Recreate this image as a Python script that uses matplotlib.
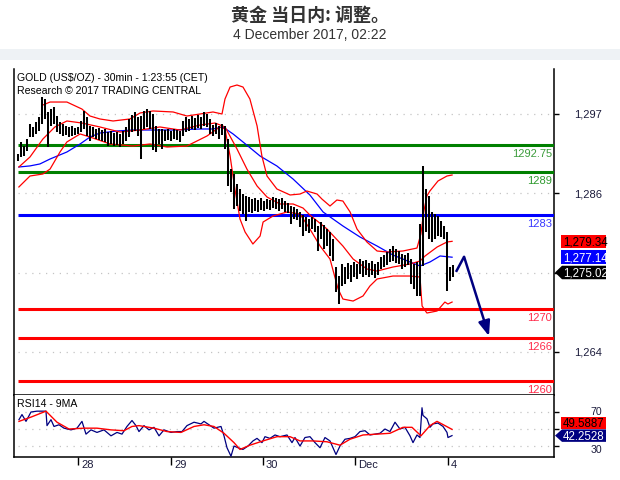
import numpy as np
import matplotlib
matplotlib.use("Agg")
import matplotlib.pyplot as plt
from matplotlib.patches import Polygon
from matplotlib.transforms import IdentityTransform, blended_transform_factory

plt.rcParams['font.family'] = ['Liberation Sans', 'DejaVu Sans']

# ---------------- data ----------------
title_text = "黄金 当日内: 调整。"
subtitle_text = "4 December 2017, 02:22"
header_lines = ["GOLD (US$/OZ) - 30min - 1:23:55 (CET)", "Research © 2017 TRADING CENTRAL"]
rsi_title = "RSI14 - 9MA"

bar_high = [1291.45, 1293.1, 1292.6, 1293.5, 1295.6, 1295.2, 1295.9, 1296.6, 1299.4, 1299.1,
            1297.3, 1297.7, 1298.0, 1296.7, 1295.9, 1295.6, 1295.3, 1295.2, 1295.3, 1295.1,
            1295.2, 1296.0, 1297.4, 1296.6, 1295.3, 1295.2, 1294.9, 1295.1, 1294.8, 1294.9,
            1294.5, 1294.6, 1294.4, 1294.5, 1294.2, 1294.6, 1295.2, 1296.3, 1296.9, 1297.3,
            1296.6, 1296.7, 1297.4, 1297.7, 1297.4, 1297.0, 1295.3, 1294.9, 1294.9, 1294.8,
            1294.9, 1294.6, 1294.9, 1294.8, 1294.6, 1296.0, 1296.6, 1296.3, 1296.7, 1296.4,
            1296.9, 1296.6, 1297.3, 1297.0, 1296.3, 1295.5, 1295.8, 1295.3, 1295.6, 1295.3,
            1293.5, 1289.4, 1288.7, 1287.3, 1286.6, 1285.9, 1285.6, 1285.5, 1285.2, 1285.3,
            1285.1, 1285.3, 1284.9, 1285.2, 1285.1, 1285.5, 1285.3, 1285.2, 1285.3, 1284.9,
            1284.7, 1284.2, 1284.1, 1283.8, 1283.4, 1283.0, 1282.7, 1282.4, 1282.7, 1282.4,
            1281.5, 1282.0, 1281.6, 1281.1, 1280.6, 1279.7, 1275.8, 1274.5, 1276.2, 1275.8,
            1276.3, 1276.1, 1276.5, 1276.2, 1276.9, 1276.6, 1276.8, 1276.3, 1276.6, 1276.2,
            1276.5, 1277.2, 1277.4, 1277.9, 1278.3, 1278.7, 1278.3, 1278.0, 1277.6, 1277.4,
            1277.7, 1276.9, 1276.2, 1276.5, 1281.7, 1289.8, 1286.6, 1285.6, 1283.4, 1283.1,
            1282.9, 1282.2, 1281.5, 1280.6, 1275.8, 1276.1]
bar_low = [1290.5, 1291.0, 1291.2, 1291.9, 1293.8, 1293.8, 1294.2, 1294.6, 1295.6, 1296.3,
           1292.4, 1295.3, 1295.6, 1294.5, 1294.2, 1293.9, 1294.1, 1293.8, 1293.9, 1294.1,
           1294.2, 1294.5, 1294.9, 1293.9, 1293.3, 1293.8, 1293.5, 1293.4, 1293.3, 1293.1,
           1292.6, 1292.8, 1292.6, 1292.7, 1292.4, 1292.8, 1293.3, 1293.8, 1294.5, 1294.6,
           1293.9, 1290.8, 1294.9, 1295.2, 1294.9, 1292.0, 1291.7, 1292.8, 1292.2, 1293.3,
           1293.4, 1293.3, 1293.5, 1293.4, 1293.1, 1293.9, 1294.5, 1294.6, 1294.9, 1294.8,
           1295.1, 1294.9, 1295.3, 1295.2, 1294.2, 1293.9, 1294.2, 1293.5, 1294.1, 1292.2,
           1287.0, 1286.2, 1283.8, 1284.2, 1283.5, 1283.1, 1282.2, 1283.4, 1283.3, 1283.5,
           1283.4, 1283.7, 1283.5, 1283.8, 1283.7, 1284.0, 1283.8, 1283.5, 1283.8, 1283.4,
           1283.3, 1281.7, 1282.4, 1282.3, 1281.3, 1280.1, 1280.8, 1280.5, 1281.1, 1280.6,
           1278.0, 1279.7, 1278.3, 1278.7, 1277.3, 1276.6, 1272.3, 1270.6, 1273.1, 1273.4,
           1274.1, 1273.7, 1274.4, 1274.1, 1274.8, 1274.4, 1274.7, 1274.4, 1274.7, 1274.3,
           1274.7, 1275.5, 1275.8, 1276.0, 1276.5, 1276.6, 1276.3, 1276.2, 1275.5, 1275.8,
           1276.1, 1273.4, 1272.7, 1271.8, 1271.8, 1275.9, 1280.6, 1279.7, 1279.2, 1279.7,
           1280.1, 1279.9, 1279.7, 1272.5, 1273.8, 1274.4]

# moving average (blue)
ma_t = [0.3, 4, 7.3, 10.7, 16.3, 20.7, 24, 27.3, 33, 38.3, 44, 51.7, 60.7, 65, 68.3, 71.7, 75,
        80.7, 86.3, 91.7, 97.3, 101.7, 108.3, 114, 119.7, 125, 130.7, 134, 137.3, 140.7, 144.7]
ma_v = [1289.65, 1289.8, 1290.07, 1290.76, 1291.73, 1292.84, 1293.81, 1294.36, 1294.64, 1294.78,
        1294.78, 1294.78, 1294.92, 1294.92, 1295.2, 1294.23, 1293.12, 1291.17, 1289.79, 1287.98,
        1285.77, 1283.41, 1281.47, 1279.94, 1278.69, 1277.44, 1276.47, 1275.92, 1276.47, 1277.31,
        1277.14]

# Bollinger bands (red)
up_t = [8.3, 10.7, 16.3, 21.3, 24, 27.3, 31.7, 37.3, 40.7, 45, 51.7, 56.3, 60.7, 65, 68, 69,
        70.7, 73, 75, 77.3, 79.7, 81.3, 83, 86.3, 90.7, 94, 96.3, 99.7, 101.3, 104, 106.3, 108.3,
        110.7, 113, 116.3, 119.7, 123, 128.3, 133, 134.3, 135.3, 136.3, 137.3, 140, 143, 144.7]
up_v = [1298.25, 1298.66, 1298.66, 1297.69, 1296.72, 1296.31, 1296.03, 1296.31, 1297.14, 1297.42,
        1297.28, 1296.72, 1297.0, 1297.28, 1297.0, 1299.08, 1300.74, 1301.02, 1300.74, 1299.08,
        1295.34, 1291.17, 1288.4, 1286.6, 1285.77, 1285.9, 1286.32, 1285.9, 1285.21, 1284.24,
        1285.07, 1284.93, 1283.41, 1281.05, 1279.25, 1278.0, 1277.86, 1278.0, 1278.41, 1280.36,
        1283.55, 1285.63, 1286.32, 1287.71, 1288.4, 1288.54]
mid_t = [0.3, 4, 8.3, 12.3, 16.3, 21.3, 27.3, 34, 40.7, 47.3, 54, 60.7, 65.7, 69, 73, 76.3,
         79.7, 83, 87.3, 91.7, 95, 97.3, 103, 108.3, 111.7, 116.3, 119.7, 125, 130.7, 134,
         135.7, 139.7, 143, 144.7]
mid_v = [1289.65, 1291.04, 1293.53, 1295.2, 1296.03, 1295.75, 1295.2, 1294.5, 1294.78, 1295.2,
         1294.78, 1295.47, 1295.75, 1295.2, 1292.15, 1289.37, 1287.01, 1285.49, 1284.52, 1284.52,
         1283.96, 1282.99, 1281.05, 1278.69, 1276.89, 1275.5, 1275.22, 1275.78, 1276.2, 1276.61,
         1277.31, 1278.55, 1279.25, 1279.34]
low_t = [0.3, 4, 8.3, 10.7, 14, 16.3, 20.7, 24, 30.7, 38.3, 44, 49.7, 56.3, 63, 67.3, 69, 70.7,
         72.3, 74, 75.7, 78.3, 80.7, 81.7, 85, 89.7, 94, 97.3, 100.7, 104, 106.7, 108.3, 111.7,
         115, 117.3, 119.7, 125, 130.7, 134, 134.7, 136.3, 139.7, 142.3, 143.3, 144.7]
low_v = [1286.88, 1288.4, 1288.68, 1289.37, 1291.73, 1293.12, 1294.23, 1293.81, 1292.84, 1292.56,
         1292.84, 1292.42, 1292.56, 1293.95, 1295.2, 1294.92, 1291.17, 1286.6, 1282.44, 1280.63,
         1278.97, 1280.08, 1282.02, 1282.85, 1283.41, 1283.13, 1281.05, 1278.69, 1276.89, 1272.73,
         1271.34, 1271.06, 1271.76, 1273.14, 1274.12, 1274.53, 1274.53, 1274.39, 1270.37, 1269.4,
         1269.68, 1270.92, 1270.65, 1270.92]

# RSI14 (navy) and its 9MA (red)
rsi_t = [0.33, 1.33, 2.67, 4.33, 6.33, 8.67, 9.33, 9.67, 11, 12, 13.67, 15.33, 17.67, 19.67,
         21.33, 22.67, 24.33, 26.33, 28.67, 31, 33, 34.67, 36.33, 38, 39.33, 40.33, 42, 43.67,
         45.33, 47, 48.67, 51, 53, 54.67, 56.33, 58.67, 61, 62, 63.67, 65.33, 67.67, 68.67,
         69.67, 71, 72, 73.33, 75, 76.67, 78.33, 79.67, 81.33, 82.33, 84, 85.67, 87.33, 89.67,
         91.33, 92.33, 94, 95.67, 97.33, 99, 100.67, 102.33, 104, 106, 107.33, 109, 110.67,
         112.33, 114, 115.67, 117.33, 119, 120.67, 122.33, 124, 125.67, 127.33, 129, 130.67,
         131.67, 133, 134, 134.67, 135, 136.33, 137.33, 138.33, 140, 141.67, 143, 143.33, 144.67]
rsi_v = [61, 67, 59, 70, 71, 71, 71, 54, 61, 53, 55, 51, 49, 51, 59, 44, 49, 46, 49, 42, 46, 44,
         53, 60, 54, 47, 54, 49, 52, 42, 49, 46, 47, 47, 54, 58, 56, 59, 55, 51, 53, 42, 28, 18,
         30, 28, 26, 30, 36, 39, 34, 41, 39, 43, 41, 43, 34, 40, 30, 40, 41, 34, 28, 40, 36, 20,
         30, 38, 39, 41, 47, 48, 43, 44, 45, 50, 47, 58, 50, 52, 42, 34, 43, 40, 75, 66, 62, 52,
         56, 57, 53, 46, 40, 42.25]
rsima_t = [0.33, 4.33, 9.33, 13, 17, 22, 26.33, 31, 35.33, 38, 40.33, 45.33, 49.67, 54.33, 58.67,
           62, 65.33, 68.67, 72, 74, 77.33, 81.67, 86.33, 90.67, 94, 98.33, 103, 107.33, 110.67,
           115, 119.67, 124, 128.33, 131.33, 134.33, 137.33, 139.67, 144.67]
rsima_v = [59, 64, 71, 58, 50, 51, 51, 49, 48, 53, 54, 51, 47, 46, 53, 55, 53, 45, 34, 26, 31,
           36, 41, 41, 36, 36, 35, 31, 38, 43, 44, 45, 52, 52, 42, 54, 59, 49.59]

levels = [1292.75, 1289, 1283, 1270, 1266, 1260]
level_labels = ["1292.75", "1289", "1283", "1270", "1266", "1260"]
level_colors = ["#008000", "#008000", "#0000ff", "#ff0000", "#ff0000", "#ff0000"]
level_text_colors = ["#3c9c3c", "#2e9a2e", "#3838ff", "#ff2a4a", "#ff2a4a", "#ff2a4a"]

price_ticks = [1297, 1286, 1275, 1264]
price_tick_labels = ["1,297", "1,286", "", "1,264"]   # 1,275 is hidden by the last-price tag
rsi_ticks = [70, 50, 30]
rsi_tick_labels = ["70", "", "30"]                   # 50 is hidden by the RSI tags
day_ticks = [20, 51, 81.67, 112.33, 143.33]
day_labels = ["28", "29", "30", "Dec", "4"]

arrow_t = [146, 148.7, 157]
arrow_p = [1275.1, 1277.2, 1266.2]

main_tags = [(1279.34, "1,279.34", "#ff0000", "black", False),
             (1277.14, "1,277.14", "#0000ff", "white", False),
             (1275.02, "1,275.02", "#000000", "white", True)]
rsi_tags = [(42.2528, "42.2528", "#000080", "white", True),
            (49.5887, "49.5887", "#ff0000", "black", False)]

# ---------------- layout ----------------
W, H = 620, 481
fig = plt.figure(figsize=(W / 100, H / 100), dpi=100)
fig.patch.set_facecolor("white")


def frac_rect(x0, y0, x1, y1):
    return [x0 / W, 1 - y1 / H, (x1 - x0) / W, (y1 - y0) / H]


# top header band
fig.add_artist(plt.Rectangle((0, 1 - 61 / H), 1, 11 / H, transform=fig.transFigure,
                             facecolor="#eef2f5", edgecolor="none", zorder=0))
fig.text(0.5, 1 - 15 / H, title_text, ha="center", va="center", fontsize=13,
         fontweight="bold", color="#333333", family=["Noto Sans CJK SC", "DejaVu Sans"])
fig.text(0.5, 1 - 35 / H, subtitle_text, ha="center", va="center", fontsize=10,
         color="#333333")

ax = fig.add_axes(frac_rect(14, 70, 554, 396))
rx = fig.add_axes(frac_rect(14, 396, 554, 458))
XL = (-1.33, 178.67)
for a in (ax, rx):
    a.set_xlim(XL)
    a.set_facecolor("white")
    for s in ("left", "right", "bottom"):
        a.spines[s].set_linewidth(1.1)
        a.spines[s].set_color("black")
    a.spines["top"].set_visible(False)
ax.set_ylim(1258.03, 1303.24)
rx.set_ylim(17.1, 90)

# grids
ax.hlines(price_ticks, 0, XL[1], colors="#c4c4c4", linestyles=(0, (1, 4.5)), lw=0.9, zorder=1)
rx.hlines(rsi_ticks, 0, XL[1], colors="#c4c4c4", linestyles=(0, (1, 4.5)), lw=0.9, zorder=1)

# ticks
ax.set_xticks([])
ax.yaxis.tick_right()
ax.set_yticks(price_ticks)
ax.tick_params(axis="y", right=True, left=False, labelright=False, labelleft=False,
               length=3.6, width=1, direction="out")
rx.yaxis.tick_right()
rx.set_yticks(rsi_ticks)
rx.tick_params(axis="y", right=True, left=False, labelright=False, labelleft=False,
               length=3.6, width=1, direction="out")
rx.set_xticks(day_ticks)
rx.tick_params(axis="x", bottom=True, labelbottom=False, length=6, width=1, direction="out")

lab_col = "#1c1c3c"
bt_main = blended_transform_factory(ax.transAxes, ax.transData)
for v, lbl in zip(price_ticks, price_tick_labels):
    if lbl:
        ax.annotate(lbl, xy=(1, v), xycoords=bt_main, xytext=(48, 0), textcoords="offset pixels",
                    ha="right", va="center", fontsize=8, color=lab_col, annotation_clip=False)
bt_rsi = blended_transform_factory(rx.transAxes, rx.transData)
rsi_label_shift = {70: 1, 30: -3}
for v, lbl in zip(rsi_ticks, rsi_tick_labels):
    if lbl:
        rx.annotate(lbl, xy=(1, v), xycoords=bt_rsi, xytext=(48, rsi_label_shift.get(v, 0)),
                    textcoords="offset pixels", ha="right", va="center", fontsize=7.6,
                    color=lab_col, annotation_clip=False)
bt_x = blended_transform_factory(rx.transData, rx.transAxes)
for t, lbl in zip(day_ticks, day_labels):
    rx.annotate(lbl, xy=(t, 0), xycoords=bt_x, xytext=(3, -2), textcoords="offset pixels",
                ha="left", va="top", fontsize=8, color=lab_col, annotation_clip=False)

# header texts
ax.text(0.006, 0.975, header_lines[0], transform=ax.transAxes, ha="left", va="center",
        fontsize=7.6, color="black")
ax.text(0.006, 0.936, header_lines[1], transform=ax.transAxes, ha="left", va="center",
        fontsize=7.6, color="black")
rx.text(0.006, 0.87, rsi_title, transform=rx.transAxes, ha="left", va="center",
        fontsize=7.6, color="black")

# levels
for v, lbl, c, tc in zip(levels, level_labels, level_colors, level_text_colors):
    ax.hlines(v, 0, XL[1], colors=c, lw=2.2, zorder=3)
    ax.annotate(lbl, xy=(1, v), xycoords=bt_main, xytext=(-2, -3), textcoords="offset pixels",
                ha="right", va="top", fontsize=8, color=tc)

# indicators
ax.plot(ma_t, ma_v, color="#0000ff", lw=0.9, zorder=4)
ax.plot(up_t, up_v, color="#ff0000", lw=0.9, zorder=4)
ax.plot(mid_t, mid_v, color="#ff0000", lw=0.9, zorder=4)
ax.plot(low_t, low_v, color="#ff0000", lw=0.9, zorder=4)

# price bars
bar_t = np.arange(len(bar_high))
ax.vlines(bar_t, bar_low, bar_high, colors="black", lw=1.45, zorder=5)

# forecast arrow
ax.plot(arrow_t[:2], arrow_p[:2], color="#000080", lw=1.8, solid_capstyle="butt", zorder=6)
ax.annotate("", xy=(arrow_t[2], arrow_p[2]), xytext=(arrow_t[1], arrow_p[1]),
            arrowprops=dict(arrowstyle="-|>,head_length=0.9,head_width=0.35", color="#000080",
                            lw=1.8, shrinkA=0, shrinkB=0), zorder=6)

# RSI
rx.plot(rsi_t, rsi_v, color="#000080", lw=0.9, zorder=4)
rx.plot(rsima_t, rsima_v, color="#ff0000", lw=1.0, zorder=5)


# value tags on the right
def draw_tags(axis, tags, h):
    fig.canvas.draw()
    prev_top = None
    for value, text, fc, tc, pointer in tags:
        y = axis.transData.transform((0, value))[1]
        if prev_top is not None and y - h / 2 < prev_top:
            y = prev_top + h / 2
        prev_top = y + h / 2
        x0, x1 = 561, 606
        if pointer:
            pts = [(555, y), (562, y + h / 2), (x1, y + h / 2), (x1, y - h / 2), (562, y - h / 2)]
        else:
            pts = [(x0, y - h / 2), (x0, y + h / 2), (x1, y + h / 2), (x1, y - h / 2)]
        poly = Polygon(pts, closed=True, transform=IdentityTransform(), facecolor=fc,
                       edgecolor="none", zorder=10)
        fig.add_artist(poly)
        txt = fig.text(563, y, text, transform=IdentityTransform(), ha="left", va="center",
                       fontsize=8.3, color=tc, zorder=11)
        txt.set_clip_path(poly)


draw_tags(ax, sorted(main_tags, key=lambda r: r[0]), 13.5)
draw_tags(rx, rsi_tags, 12.5)

fig.savefig("out.png", dpi=100)
